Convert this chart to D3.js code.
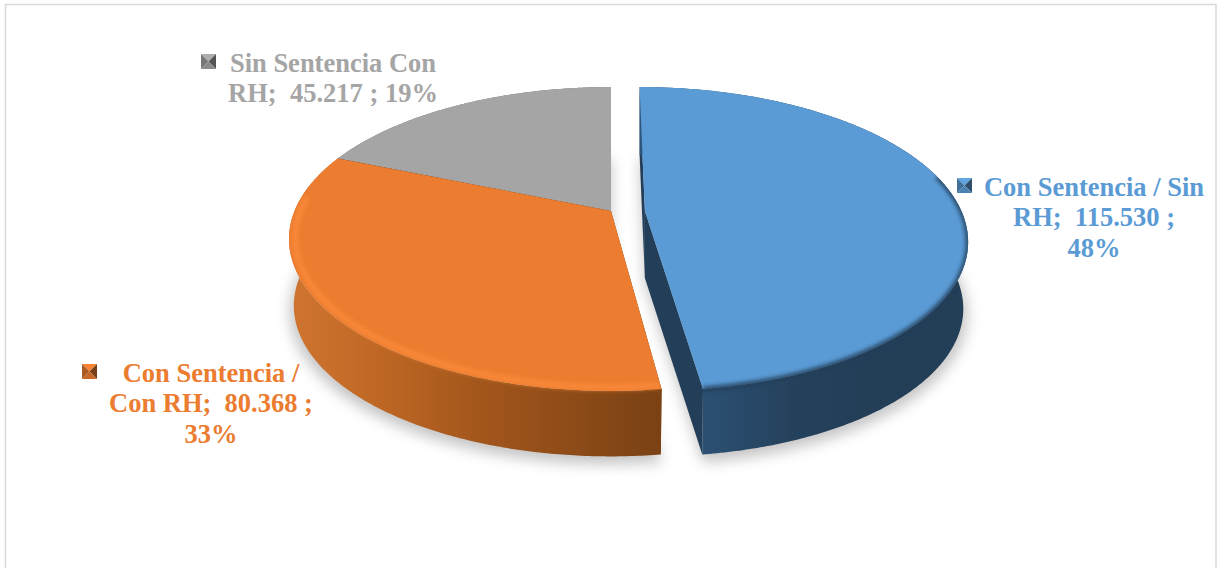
<!DOCTYPE html>
<html lang="es">
<head>
<meta charset="utf-8">
<title>Sentencia y RH</title>
<script src="https://cdn.jsdelivr.net/npm/d3@7/dist/d3.min.js"></script>
<style>
  html, body { margin: 0; padding: 0; background: #fff; overflow: hidden; }
  text { font-family: "Liberation Serif", "Times New Roman", serif; font-weight: 700; font-size: 26.5px; white-space: pre; }
</style>
</head>
<body>
<svg id="chart" width="1223" height="568"></svg>
<script>
// Slice data, in clockwise order from twelve o'clock
const labelNames = ["Con Sentencia / Sin\nRH", "Con Sentencia /\nCon RH", "Sin Sentencia Con\nRH"];
const sliceValues = [115530, 80368, 45217];
const percentOnOwnLine = [true, true, false];
const sliceColors = ["#5B9BD5", "#EB7C30", "#A5A5A5"];
const explodeAmounts = [0.107, 0, 0];
const labelCenters = [[1094, 196], [211, 382], [333, 71.5]];
const markerCorners = [[957, 178], [82, 364], [201, 54]];

// Side wall colours, left to right across each slice
const wallStops = [
  ["#2E567C", "#2B4E70", "#25425D", "#233E57", "#233E57"],
  ["#CF7530", "#BE6724", "#A4571C", "#8E4C18", "#7A4114"],
  ["#6E6E6E", "#6E6E6E", "#6E6E6E", "#6E6E6E", "#6E6E6E"]
];
const cutWallColors = ["#223E58", "#7A4114", "#6E6E6E"];

const svg = d3.select("#chart");
const defs = svg.append("defs");

// Perspective view of the tilted disc
const cx = 611, cy = 211;
const tilt = 0.184;
const depth = 67;
const xDisc = d3.scaleLinear().domain([-1, 1]).range([cx - 316.5, cx + 316.5]);
const yDisc = d3.scaleLinear().domain([-1, 1]).range([cy - 146.8, cy + 146.8]);

function project(angle, radius, explode, lower) {
  const u = radius * Math.sin(angle);
  const v = -radius * Math.cos(angle);
  const persp = 1 - tilt * v;
  const squeeze = lower ? 0.985 : 1;
  return [
    cx + (xDisc(u * squeeze + explode) - cx) / persp,
    cy + (yDisc(v) - cy) / persp + (lower ? depth - 1.5 * v : 0)
  ];
}

function arcPoints(a0, a1, radius, explode, lower) {
  const n = Math.max(2, Math.ceil(Math.abs(a1 - a0) / 0.01));
  return d3.range(n + 1).map(i => project(a0 + (a1 - a0) * i / n, radius, explode, lower));
}

const polygon = d3.line().curve(d3.curveLinearClosed);
const polyline = d3.line();

const pieLayout = d3.pie().sort(null).value(d => d)(sliceValues);
const slices = pieLayout.map((p, i) => ({
  i,
  a0: p.startAngle,
  a1: p.endAngle,
  e: explodeAmounts[i],
  color: sliceColors[i]
}));

// Soft shadows used under the pie and on the rim highlights
const blur = (id, sd) => defs.append("filter").attr("id", id)
  .attr("x", "-20%").attr("y", "-20%").attr("width", "140%").attr("height", "140%")
  .append("feGaussianBlur").attr("stdDeviation", sd);
blur("shadowBlur", 7);
blur("rimBlur", 2.2);

slices.forEach(s => {
  const grad = defs.append("linearGradient").attr("id", "wall" + s.i)
    .attr("gradientUnits", "userSpaceOnUse");
  const ext = d3.extent(arcPoints(s.a0, s.a1, 1, s.e, false).map(d => d[0]));
  grad.attr("x1", ext[0]).attr("x2", s.i === 0 ? ext[0] + 300 : ext[1]).attr("y1", 0).attr("y2", 0);
  wallStops[s.i].forEach((c, j, all) => {
    grad.append("stop").attr("offset", j / (all.length - 1)).attr("stop-color", c);
  });
});

// Frame around the chart area
svg.append("path")
  .attr("d", "M5.5,569V4.5H1216V569")
  .attr("fill", "none")
  .attr("stroke", "#D9D9D9")
  .attr("stroke-width", 1.5);

function topFace(s) {
  return [project(0, 0, s.e, false), ...arcPoints(s.a0, s.a1, 1, s.e, false)];
}
function lowerFace(s) {
  return [project(0, 0, s.e, true), ...arcPoints(s.a0, s.a1, 1.012, s.e, true)];
}
function outerWall(s) {
  return [...arcPoints(s.a0, s.a1, 1, s.e, false), ...arcPoints(s.a0, s.a1, 1, s.e, true).reverse()];
}
function cutWall(s, a) {
  return [project(0, 0, s.e, false), project(a, 1, s.e, false), project(a, 1, s.e, true), project(0, 0, s.e, true)];
}

// Cast shadows first
svg.append("g").attr("filter", "url(#shadowBlur)")
  .selectAll("path").data(slices).join("path")
  .attr("d", s => polygon(lowerFace(s).map(([x, y]) => [x, y + 5])))
  .attr("fill", "#000")
  .attr("fill-opacity", 0.23);

// Painted back to front so that nearer slices cover farther ones
const order = [2, 1, 0];
const rimSpec = {
  0: { from: 0.44, radius: 1.0, stroke: "#223E58", width: 4.5 },
  1: { from: 0, to: 0.86, radius: 0.982, stroke: "#F98837", width: 6 }
};

order.forEach(idx => {
  const s = slices[idx];
  const g = svg.append("g").attr("class", "slice");

  g.append("path").attr("d", polygon(cutWall(s, s.a0))).attr("fill", cutWallColors[idx]);
  g.append("path").attr("d", polygon(cutWall(s, s.a1))).attr("fill", cutWallColors[idx]);
  g.append("path").attr("d", polygon(outerWall(s))).attr("fill", `url(#wall${idx})`);
  g.append("path").attr("d", polygon(topFace(s))).attr("fill", s.color);

  const rim = rimSpec[idx];
  if (rim) {
    const clip = defs.append("clipPath").attr("id", "clip" + idx);
    clip.append("path").attr("d", polygon(topFace(s)));
    clip.append("path").attr("d", polygon(outerWall(s)));
    const span = s.a1 - s.a0;
    const a0 = s.a0 + span * (rim.from || 0);
    const a1 = s.a0 + span * (rim.to === undefined ? 1 : rim.to);
    g.append("g").attr("clip-path", `url(#clip${idx})`)
      .append("path")
      .attr("d", polyline(arcPoints(a0, a1, rim.radius, s.e, false)))
      .attr("fill", "none")
      .attr("stroke", rim.stroke)
      .attr("stroke-width", rim.width)
      .attr("filter", "url(#rimBlur)");
  }
});

// Labels: name, value and share, with the value text taken from the data
const total = d3.sum(sliceValues);
const fmt = d3.formatLocale({ decimal: ",", thousands: ".", grouping: [3], currency: ["", ""] }).format(",d");

slices.forEach(s => {
  const v = sliceValues[s.i];
  const pct = Math.round(v / total * 100) + "%";
  const [first, second] = labelNames[s.i].split("\n");
  const lines = percentOnOwnLine[s.i]
    ? [first, `${second};  ${fmt(v)} ;`, pct]
    : [first, `${second};  ${fmt(v)} ; ${pct}`];
  const [lx, ly] = labelCenters[s.i];
  const text = svg.append("text").attr("fill", s.color).attr("text-anchor", "middle");
  lines.forEach((line, j) => {
    text.append("tspan").attr("x", lx).attr("y", ly + j * 30.4)
      .attr("xml:space", "preserve").text(line);
  });

  // Legend key: a small bevelled square of four facets
  const [mx, my] = markerCorners[s.i];
  const size = 15, c = d3.color(s.color);
  const corners = [[mx, my], [mx + size, my], [mx + size, my + size], [mx, my + size]];
  const mid = [mx + size / 2, my + size / 2];
  const facetColors = [c.brighter(0.15), c.darker(1.9), c.darker(0.5), c.darker(0.9)];
  svg.append("g").selectAll("path").data(facetColors).join("path")
    .attr("d", (d, k) => polygon([corners[k], corners[(k + 1) % 4], mid]))
    .attr("fill", d => d);
});
</script>
</body>
</html>
